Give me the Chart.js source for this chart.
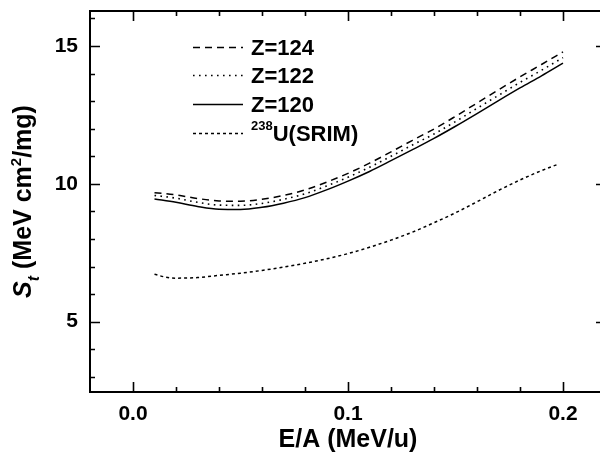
<!DOCTYPE html>
<html>
<head>
<meta charset="utf-8">
<script src="https://cdn.jsdelivr.net/npm/chart.js@4/dist/chart.umd.min.js"></script>
<style>
  html, body { margin: 0; padding: 0; background: #fff; }
  #wrap { width: 600px; height: 455px; overflow: hidden; position: relative; }
  canvas { display: block; }
</style>
</head>
<body>
<div id="wrap"><canvas id="c" width="620" height="455"></canvas></div>
<script>
// ---- data ----
const energyPerNucleon = [0.01, 0.02, 0.03, 0.04, 0.05, 0.06, 0.07, 0.08, 0.09, 0.10,
                          0.11, 0.12, 0.13, 0.14, 0.15, 0.16, 0.17, 0.18, 0.19, 0.20];
const stoppingZ124 = [9.68, 9.60, 9.47, 9.38, 9.37, 9.44, 9.58, 9.78, 10.06, 10.38,
                      10.75, 11.16, 11.58, 11.99, 12.45, 12.93, 13.41, 13.88, 14.33, 14.79];
const stoppingZ122 = [9.58, 9.48, 9.33, 9.23, 9.22, 9.29, 9.44, 9.64, 9.92, 10.24,
                      10.60, 11.00, 11.41, 11.81, 12.26, 12.74, 13.21, 13.68, 14.12, 14.58];
const stoppingZ120 = [9.45, 9.33, 9.18, 9.08, 9.07, 9.15, 9.30, 9.50, 9.78, 10.10,
                      10.45, 10.84, 11.24, 11.65, 12.09, 12.55, 13.02, 13.48, 13.92, 14.38];
const srimEnergy = [0.01, 0.015, 0.02, 0.03, 0.04, 0.05, 0.06, 0.07, 0.08, 0.09, 0.10,
                    0.11, 0.12, 0.13, 0.14, 0.15, 0.16, 0.17, 0.18, 0.19, 0.198];
const stoppingU238 = [6.72, 6.62, 6.58, 6.60, 6.68, 6.76, 6.86, 6.98, 7.12, 7.28, 7.47,
                      7.70, 7.96, 8.25, 8.59, 8.95, 9.35, 9.76, 10.14, 10.48, 10.72];
const seriesLabels = ['Z=124', 'Z=122', 'Z=120', 'U(SRIM)'];
const xTickValues = [0.0, 0.1, 0.2];
const yTickValues = [5, 10, 15];
const xMinorStep = 0.02;
const yMinorStep = 1;

const toPoints = (xs, ys) => xs.map((x, i) => ({ x: x, y: ys[i] }));

const FONT = "'Liberation Sans', Arial, Helvetica, sans-serif";

const framePlugin = {
  id: 'frame',
  afterDraw(chart) {
    const ctx = chart.ctx;
    const a = chart.chartArea;
    const xs = chart.scales.x, ys = chart.scales.y;
    ctx.save();
    ctx.strokeStyle = '#000';
    ctx.lineWidth = 2;
    ctx.strokeRect(a.left, a.top, a.right - a.left, a.bottom - a.top);
    ctx.lineWidth = 1.6;
    ctx.beginPath();
    for (let v = 0; v <= xs.max + 1e-9; v += xMinorStep) {
      const val = Math.round(v * 100) / 100;
      const major = xTickValues.some(t => Math.abs(t - val) < 1e-9);
      const len = major ? 10 : 5;
      const px = Math.round(xs.getPixelForValue(val)) + 0.5;
      if (px <= a.left || px >= a.right) continue;
      ctx.moveTo(px, a.bottom); ctx.lineTo(px, a.bottom - len);
      ctx.moveTo(px, a.top); ctx.lineTo(px, a.top + len);
    }
    for (let v = Math.ceil(ys.min); v <= ys.max; v += yMinorStep) {
      const major = yTickValues.includes(v);
      const len = major ? 10 : 5;
      const py = Math.round(ys.getPixelForValue(v)) + 0.5;
      if (py <= a.top || py >= a.bottom) continue;
      ctx.moveTo(a.left, py); ctx.lineTo(a.left + len, py);
      ctx.moveTo(a.right, py); ctx.lineTo(a.right - len, py);
    }
    ctx.stroke();

    // y axis title with subscript / superscript
    const parts = [
      { t: 'S', f: 'italic bold 25px ' + FONT, dy: 0 },
      { t: 't', f: 'italic bold 16px ' + FONT, dy: 8 },
      { t: ' (MeV cm', f: 'bold 25px ' + FONT, dy: 0 },
      { t: '2', f: 'bold 15px ' + FONT, dy: -10 },
      { t: '/mg)', f: 'bold 25px ' + FONT, dy: 0 }
    ];
    let total = 0;
    parts.forEach(p => { ctx.font = p.f; p.w = ctx.measureText(p.t).width; total += p.w; });
    ctx.translate(31, (a.top + a.bottom) / 2);
    ctx.rotate(-Math.PI / 2);
    ctx.fillStyle = '#000';
    ctx.textBaseline = 'alphabetic';
    ctx.textAlign = 'left';
    let x = -total / 2;
    parts.forEach(p => { ctx.font = p.f; ctx.fillText(p.t, x, p.dy); x += p.w; });
    ctx.restore();

    // legend
    ctx.save();
    const rows = [47, 75, 104, 133];
    chart.data.datasets.forEach((ds, i) => {
      const y = rows[i] + 0.5;
      ctx.strokeStyle = '#000';
      ctx.lineWidth = ds.borderWidth;
      ctx.setLineDash(ds.borderDash || []);
      ctx.beginPath();
      ctx.moveTo(193, y); ctx.lineTo(243, y);
      ctx.stroke();
      ctx.setLineDash([]);
      ctx.fillStyle = '#000';
      ctx.textBaseline = 'middle';
      ctx.textAlign = 'left';
      let tx = 251;
      if (i === 3) {
        ctx.font = 'bold 13px ' + FONT;
        ctx.fillText('238', tx, y - 7);
        tx += ctx.measureText('238').width;
      }
      ctx.font = 'bold 22px ' + FONT;
      ctx.fillText(ds.label, tx, y + 1);
    });
    ctx.restore();
  }
};

const zeroPad = s => { s.paddingTop = 0; s.paddingBottom = 0; s.paddingLeft = 0; s.paddingRight = 0; };

new Chart(document.getElementById('c'), {
  type: 'line',
  data: {
    datasets: [
      { label: seriesLabels[0], data: toPoints(energyPerNucleon, stoppingZ124),
        borderColor: '#000', borderWidth: 1.5, borderDash: [7, 5], pointRadius: 0,
        cubicInterpolationMode: 'monotone', fill: false },
      { label: seriesLabels[1], data: toPoints(energyPerNucleon, stoppingZ122),
        borderColor: '#000', borderWidth: 1.6, borderDash: [1.6, 4.4], pointRadius: 0,
        cubicInterpolationMode: 'monotone', fill: false },
      { label: seriesLabels[2], data: toPoints(energyPerNucleon, stoppingZ120),
        borderColor: '#000', borderWidth: 1.5, borderDash: [], pointRadius: 0,
        cubicInterpolationMode: 'monotone', fill: false },
      { label: seriesLabels[3], data: toPoints(srimEnergy, stoppingU238),
        borderColor: '#000', borderWidth: 1.5, borderDash: [3, 3], pointRadius: 0,
        cubicInterpolationMode: 'monotone', fill: false }
    ]
  },
  options: {
    responsive: false,
    animation: false,
    devicePixelRatio: 1,
    layout: { padding: { left: 0, top: 11, right: 14, bottom: 0 } },
    plugins: { legend: { display: false }, tooltip: { enabled: false } },
    scales: {
      x: {
        type: 'linear', min: -0.02, max: 0.22,
        afterBuildTicks: s => { s.ticks = xTickValues.map(v => ({ value: v })); },
        afterFit: s => { s.height = 63; zeroPad(s); },
        grid: { display: false, drawTicks: false },
        border: { display: false },
        ticks: { callback: v => Number(v).toFixed(1), color: '#000', padding: 10,
                 maxRotation: 0, autoSkip: false, font: { family: FONT, size: 21, weight: 'bold' } },
        title: { display: true, text: 'E/A (MeV/u)', color: '#000', padding: { top: 0, bottom: 0 },
                 font: { family: FONT, size: 25, weight: 'bold' } }
      },
      y: {
        type: 'linear', min: 2.45, max: 16.27,
        afterBuildTicks: s => { s.ticks = yTickValues.map(v => ({ value: v })); },
        afterFit: s => { s.width = 90; zeroPad(s); },
        grid: { display: false, drawTicks: false },
        border: { display: false },
        ticks: { callback: v => String(v), color: '#000', padding: 12,
                 font: { family: FONT, size: 21, weight: 'bold' } }
      }
    }
  },
  plugins: [framePlugin]
});
</script>
</body>
</html>
